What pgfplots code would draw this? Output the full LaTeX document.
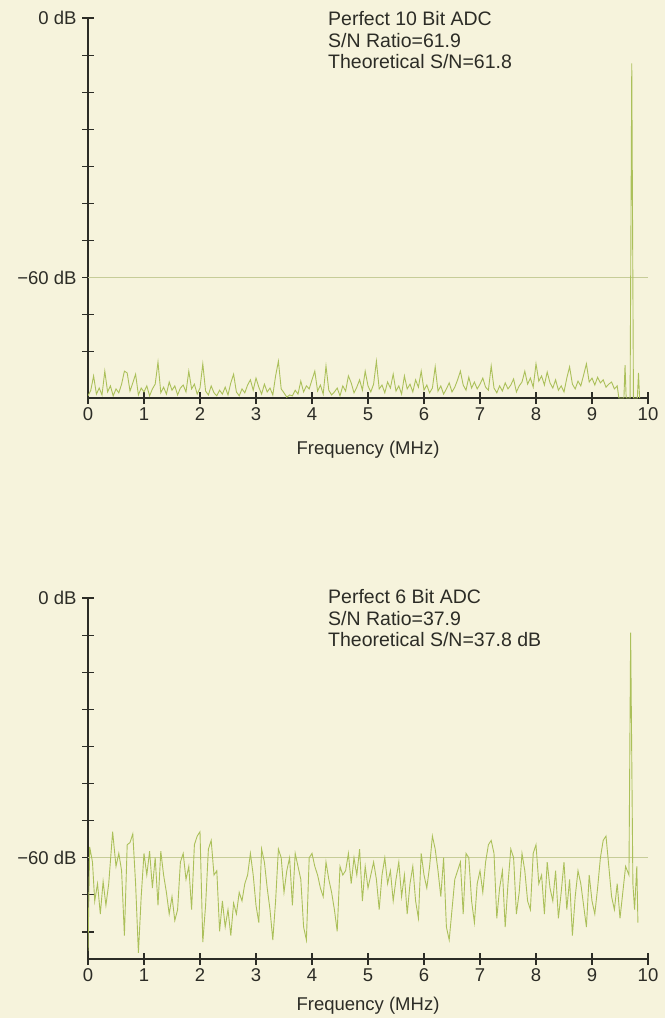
\documentclass[border=0pt]{standalone}
\usepackage{fontspec}
\setmainfont{Liberation Sans}
\usepackage{pgfplots}
\pgfplotsset{compat=1.18}
\usepackage{pgfplotstable}

\definecolor{paper}{HTML}{F6F3DC}
\definecolor{ink}{HTML}{2C2C26}
\definecolor{trace}{HTML}{ABC05A}
\definecolor{refline}{HTML}{C6CC98}

% 10 bit ADC spectrum (dB)
\pgfplotstableread{
x y
0.00 -87.3
0.05 -86.0
0.10 -82.7
0.15 -86.9
0.20 -85.5
0.25 -87.1
0.30 -81.6
0.35 -86.4
0.40 -85.0
0.45 -87.3
0.50 -85.7
0.55 -86.6
0.60 -84.6
0.65 -81.6
0.70 -82.0
0.75 -86.2
0.80 -84.3
0.85 -82.3
0.90 -87.1
0.95 -85.5
1.00 -86.4
1.05 -85.0
1.10 -87.3
1.15 -85.7
1.20 -84.6
1.25 -79.5
1.30 -86.6
1.35 -85.3
1.40 -86.9
1.45 -84.1
1.50 -86.0
1.55 -85.0
1.60 -87.1
1.65 -85.5
1.70 -84.8
1.75 -86.4
1.80 -81.6
1.85 -85.7
1.90 -84.6
1.95 -86.9
2.00 -85.5
2.05 -79.9
2.10 -86.2
2.15 -87.1
2.20 -85.0
2.25 -86.6
2.30 -87.3
2.35 -86.0
2.40 -86.9
2.45 -85.3
2.50 -87.1
2.55 -84.3
2.60 -82.3
2.65 -86.4
2.70 -87.3
2.75 -85.7
2.80 -86.6
2.85 -84.8
2.90 -83.6
2.95 -86.0
3.00 -83.2
3.05 -85.3
3.10 -86.9
3.15 -84.6
3.20 -86.4
3.25 -85.5
3.30 -87.1
3.35 -82.7
3.40 -79.3
3.45 -85.7
3.50 -86.6
3.55 -87.6
3.60 -87.1
3.65 -87.3
3.70 -86.0
3.75 -86.9
3.80 -83.9
3.85 -86.4
3.90 -85.0
3.95 -85.7
4.00 -83.6
4.05 -81.6
4.10 -86.2
4.15 -84.8
4.20 -86.9
4.25 -80.4
4.30 -86.0
4.35 -87.1
4.40 -86.4
4.45 -85.5
4.50 -87.3
4.55 -85.0
4.60 -86.2
4.65 -82.7
4.70 -84.3
4.75 -86.6
4.80 -85.3
4.85 -83.6
4.90 -86.0
4.95 -81.6
5.00 -85.0
5.05 -86.4
5.10 -84.6
5.15 -79.3
5.20 -85.7
5.25 -84.8
5.30 -86.6
5.35 -84.1
5.40 -85.5
5.45 -82.3
5.50 -86.2
5.55 -85.0
5.60 -86.9
5.65 -82.7
5.70 -85.7
5.75 -84.6
5.80 -86.4
5.85 -83.6
5.90 -85.3
5.95 -81.6
6.00 -86.0
6.05 -84.8
6.10 -86.6
6.15 -85.5
6.20 -80.6
6.25 -86.2
6.30 -85.0
6.35 -86.9
6.40 -85.7
6.45 -84.3
6.50 -86.4
6.55 -85.3
6.60 -83.6
6.65 -81.6
6.70 -84.8
6.75 -86.0
6.80 -83.0
6.85 -85.5
6.90 -84.1
6.95 -85.7
7.00 -84.6
7.05 -83.2
7.10 -85.3
7.15 -86.0
7.20 -80.4
7.25 -85.5
7.30 -86.6
7.35 -85.0
7.40 -86.2
7.45 -84.3
7.50 -85.7
7.55 -84.8
7.60 -83.4
7.65 -86.4
7.70 -85.0
7.75 -84.1
7.80 -81.6
7.85 -84.6
7.90 -83.2
7.95 -85.3
8.00 -79.9
8.05 -83.9
8.10 -82.7
8.15 -84.8
8.20 -81.8
8.25 -84.3
8.30 -85.5
8.35 -83.6
8.40 -86.0
8.45 -85.0
8.50 -86.4
8.55 -83.2
8.60 -80.6
8.65 -84.6
8.70 -85.7
8.75 -83.9
8.80 -85.0
8.85 -82.5
8.90 -79.9
8.95 -84.1
9.00 -83.2
9.05 -84.8
9.10 -83.0
9.15 -84.3
9.20 -83.6
9.25 -85.3
9.30 -84.6
9.35 -84.1
9.40 -85.7
9.45 -85.0
9.48 -87.8
9.57 -87.8
9.59 -80.2
9.61 -87.8
9.68 -87.8
9.71 -10.5
9.74 -87.8
9.81 -87.8
9.83 -82.0
9.85 -87.8
}\tenbit

% 6 bit ADC spectrum (dB)
\pgfplotstableread{
x y
0.00 -81.5
0.03 -57.5
0.08 -61
0.12 -70
0.17 -66
0.22 -73
0.27 -65.5
0.32 -71
0.37 -66
0.44 -54
0.50 -62
0.55 -59
0.60 -63
0.65 -78
0.70 -57
0.75 -56.5
0.80 -54.5
0.85 -66
0.90 -82
0.95 -69
1.00 -59
1.05 -64
1.10 -58.5
1.15 -67
1.20 -60
1.25 -71
1.30 -58.5
1.35 -64
1.40 -68
1.45 -73
1.50 -69
1.55 -74.5
1.60 -72
1.65 -61
1.70 -59
1.75 -65
1.80 -62
1.85 -72
1.90 -57
1.95 -55
2.00 -54
2.05 -79.5
2.10 -71
2.15 -58
2.20 -56
2.25 -64
2.30 -63
2.35 -77
2.40 -70
2.45 -76
2.50 -72
2.55 -78
2.60 -70.5
2.65 -73
2.70 -68
2.75 -70
2.80 -66
2.85 -64
2.90 -59
2.95 -64
3.00 -71
3.05 -75
3.10 -58
3.15 -61
3.20 -67
3.25 -72
3.30 -79
3.35 -70
3.40 -58
3.45 -60
3.50 -68
3.55 -63
3.60 -60
3.65 -71
3.70 -59
3.75 -62
3.80 -65
3.85 -76
3.90 -79
3.95 -60
4.00 -59
4.05 -62
4.10 -64
4.15 -67
4.20 -69
4.25 -61
4.30 -65
4.35 -68
4.40 -72
4.45 -77
4.50 -62
4.55 -64
4.60 -63
4.65 -59
4.70 -66
4.75 -60
4.80 -64
4.85 -58
4.90 -70
4.95 -62
5.00 -67
5.05 -64
5.10 -61
5.15 -65
5.20 -72
5.25 -64
5.30 -60
5.35 -66
5.40 -63
5.45 -70
5.50 -65
5.55 -61
5.60 -69
5.65 -64
5.70 -73
5.75 -66
5.80 -62
5.85 -70
5.90 -74
5.95 -59
6.00 -64
6.05 -67
6.10 -62
6.15 -55
6.20 -58
6.25 -63
6.30 -69
6.35 -60
6.40 -76
6.45 -79
6.50 -72
6.55 -65
6.60 -63
6.65 -61
6.70 -73
6.75 -59
6.80 -60
6.85 -70
6.90 -75
6.95 -66
7.00 -63
7.05 -68
7.10 -61
7.15 -57
7.20 -56
7.25 -59
7.30 -74
7.35 -67
7.40 -63
7.45 -76
7.50 -66
7.55 -58
7.60 -60
7.65 -73
7.70 -68
7.75 -59
7.80 -63
7.85 -70
7.90 -72
7.95 -59
8.00 -57
8.05 -66
8.10 -64
8.15 -73
8.20 -61
8.25 -67
8.30 -70
8.35 -63
8.40 -74
8.45 -68
8.50 -61
8.55 -72
8.60 -65
8.65 -78
8.70 -69
8.75 -63
8.80 -66
8.85 -71
8.90 -76
8.95 -64
9.00 -70
9.05 -73
9.10 -67
9.15 -60
9.20 -56
9.25 -55
9.30 -62
9.35 -69
9.40 -72
9.45 -66
9.50 -74
9.55 -68
9.60 -62
9.66 -64
9.69 -8
9.73 -66
9.76 -72
9.80 -62
9.82 -75
}\sixbit

\pgfplotsset{
  spec/.style={
    scale only axis, width=560pt,
    xmin=0, xmax=10, ymax=0,
    axis x line*=bottom, axis y line*=left,
    xtick pos=bottom, ytick pos=left,
    xtick={0,...,10},
    ytick={0,-8.571,-17.143,-25.714,-34.286,-42.857,-51.429,-60,-68.571,-77.143},
    yticklabels={0 dB,,,,,,,−60 dB,,},
    tick align=center, major tick length=12pt,
    tick style={ink, line width=1.2pt},
    tick label style={font=\fontsize{18.5}{20}\selectfont, text=ink},
    yticklabel style={xshift=-2pt},
    /pgf/number format/assume math mode=true,
    xlabel={Frequency (MHz)},
    xlabel style={font=\fontsize{18.5}{20}\selectfont, text=ink, anchor=center},
  },
}

\begin{document}
\begin{tikzpicture}
\fill[paper] (0,0) rectangle (665pt,-1018pt);
\useasboundingbox (0,0) rectangle (665pt,-1018pt);

\begin{axis}[spec,
  at={(88pt,-398pt)}, anchor=south west, height=380pt, ymin=-87.8,
  axis line style={ink, line width=1.8pt},
  xlabel style={at={(axis description cs:0.5,-0.137)}},
]
\addplot[refline, line width=1pt] coordinates {(0,-60) (10,-60)};
\addplot[trace, line width=0.9pt] table[x=x, y=y] {\tenbit};
\end{axis}

\begin{axis}[spec,
  at={(88pt,-959pt)}, anchor=south west, height=361pt, ymin=-83.4,
  axis line style={ink, line width=1.4pt},
  xlabel style={at={(axis description cs:0.5,-0.13)}},
]
\addplot[refline, line width=1pt] coordinates {(0,-60) (10,-60)};
\addplot[trace, line width=0.9pt] table[x=x, y=y] {\sixbit};
\end{axis}

\begin{scope}[font=\fontsize{19.5}{22}\selectfont, text=ink]
\node[anchor=base west, inner sep=0pt] at (328pt,-25pt) {Perfect 10 Bit ADC};
\node[anchor=base west, inner sep=0pt] at (328pt,-47pt) {S/N Ratio=61.9};
\node[anchor=base west, inner sep=0pt] at (328pt,-68pt) {Theoretical S/N=61.8};
\node[anchor=base west, inner sep=0pt] at (328pt,-603pt) {Perfect 6 Bit ADC};
\node[anchor=base west, inner sep=0pt] at (328pt,-625pt) {S/N Ratio=37.9};
\node[anchor=base west, inner sep=0pt] at (328pt,-646pt) {Theoretical S/N=37.8 dB};
\end{scope}
\end{tikzpicture}
\end{document}
